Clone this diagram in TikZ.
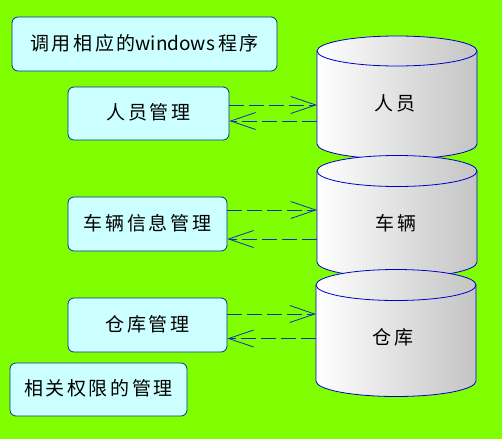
\documentclass[tikz,border=0pt]{standalone}
\usepackage{fontspec}
\newfontfamily\cjk{Noto Sans CJK SC}[LetterSpace=14]
\newfontfamily\cjklatin{Noto Sans CJK SC}
\usetikzlibrary{arrows.meta}
\definecolor{bg}{RGB}{128,255,0}
\definecolor{boxfill}{RGB}{204,255,255}
\definecolor{boxline}{RGB}{0,51,153}
\definecolor{cylline}{RGB}{0,0,204}
\definecolor{cylgray}{RGB}{196,196,196}
\definecolor{flowcol}{RGB}{16,48,192}
\newcommand\dbcyl[5]{%
  \path[cylside] (#1,#3) -- (#1,#4)
    arc[start angle=180,end angle=360,x radius=80pt,y radius=#5pt]
    -- (#2,#3)
    arc[start angle=0,end angle=180,x radius=80pt,y radius=#5pt] -- cycle;
  \draw[draw=cylline,line width=0.8pt] (#1,#3)
    arc[start angle=180,end angle=360,x radius=80pt,y radius=#5pt];}
\begin{document}
\begin{tikzpicture}[x=1pt,y=-1pt,
  modbox/.style={draw=boxline, fill=boxfill, rounded corners=6pt, inner sep=0pt,
    line width=0.8pt, font=\cjk\fontsize{19}{19}\selectfont},
  cylside/.style={draw=cylline, line width=0.8pt, left color=white, right color=cylgray},
  dblabel/.style={inner sep=0pt, font=\cjk\fontsize{19}{19}\selectfont},
  flow/.style={draw=flowcol, line width=0.8pt, dash pattern=on 15pt off 5pt,
    -{Straight Barb[length=25pt,width=17pt]}}]
\fill[bg] (0,0) rectangle (502,439);
\useasboundingbox (0,0) rectangle (502,439);

% boxes
\node[modbox, minimum width=265pt, minimum height=54pt] (b1) at (144.5,44) {\raisebox{3.5pt}{调用相应的{\cjklatin windows}\,程序}};
\node[modbox, minimum width=161pt, minimum height=53pt] (b2) at (148.5,113.5) {\raisebox{3.5pt}{人员管理}};
\node[modbox, minimum width=159pt, minimum height=54pt] (b3) at (147.5,224) {\raisebox{3.5pt}{车辆信息管理}};
\node[modbox, minimum width=159pt, minimum height=54pt] (b4) at (147.5,325) {\raisebox{3.5pt}{仓库管理}};
\node[modbox, minimum width=177pt, minimum height=53pt] (b5) at (98.5,389.5) {\raisebox{3.5pt}{相关权限的管理}};

% cylinders
\dbcyl{317}{477}{51}{144}{15}
\node[dblabel] (t1) at (395,103) {人员};
\dbcyl{317}{477}{171}{262}{15.5}
\node[dblabel] (t2) at (396,223) {车辆};
\dbcyl{316}{476}{285}{381}{15.5}
\node[dblabel] (t3) at (393,337) {仓库};

% connector end points on the cylinders
\coordinate (c1in) at (317,105);
\coordinate (c1out) at (317,121);
\coordinate (c2in) at (317,210);
\coordinate (c2out) at (317,239);
\coordinate (c3in) at (316,314);
\coordinate (c3out) at (316,338.5);

\draw[flow] (b2.east |- c1in) -- (c1in);
\draw[flow] (c1out) -- (b2.east |- c1out);
\draw[flow] (b3.east |- c2in) -- (c2in);
\draw[flow] (c2out) -- (b3.east |- c2out);
\draw[flow] (b4.east |- c3in) -- (c3in);
\draw[flow] (c3out) -- (b4.east |- c3out);
\end{tikzpicture}
\end{document}
